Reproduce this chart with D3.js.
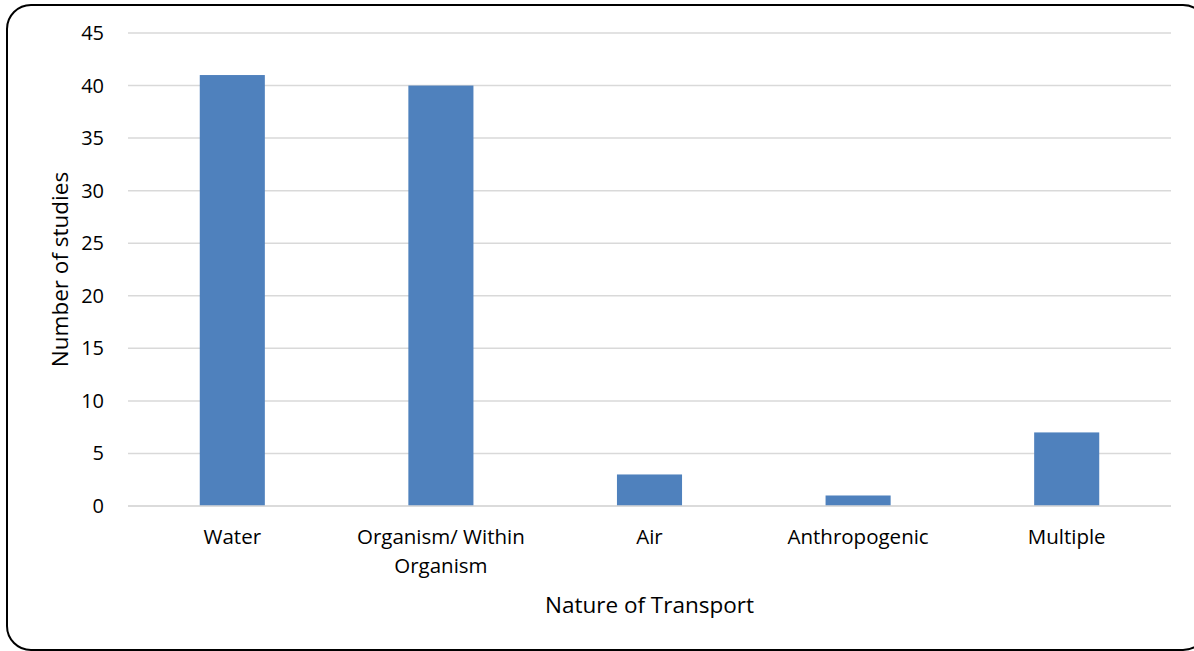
<!DOCTYPE html>
<html>
<head>
<title>Nature of Transport</title>
<script src="https://d3js.org/d3.v7.min.js"></script>
<style>
  body { margin: 0; background: #fff; }
  svg text { font-family: "Open Sans", "Noto Sans", sans-serif; fill: #000; }
</style>
</head>
<body>
<svg id="chart" width="1194" height="651"></svg>
<script>
// data
const categories = ["Water", "Organism/ Within Organism", "Air", "Anthropogenic", "Multiple"];
const studies = [41, 40, 3, 1, 7];
const yTicks = [0, 5, 10, 15, 20, 25, 30, 35, 40, 45];

const svg = d3.select("#chart");
const plotL = 128, plotR = 1171, plotT = 33, plotB = 506;

// outer frame with rounded corners
svg.append("rect")
  .attr("x", 7).attr("y", 5)
  .attr("width", 1200).attr("height", 645)
  .attr("rx", 24).attr("ry", 24)
  .attr("fill", "none").attr("stroke", "#000").attr("stroke-width", 2);

const x = d3.scaleBand().domain(categories).range([plotL, plotR]).paddingInner(0.688).paddingOuter(0.344);
const y = d3.scaleLinear().domain([0, 45]).range([plotB, plotT]);

// gridlines
svg.append("g").selectAll("line").data(yTicks).join("line")
  .attr("x1", plotL).attr("x2", plotR)
  .attr("y1", d => y(d)).attr("y2", d => y(d))
  .attr("stroke", "#d9d9d9").attr("stroke-width", 1.5);

// y tick labels
svg.append("g").selectAll("text").data(yTicks).join("text")
  .attr("x", 104).attr("y", d => y(d))
  .attr("dy", "0.35em")
  .attr("text-anchor", "end")
  .attr("font-size", 20)
  .text(d => d);

// bars
svg.append("g").selectAll("rect").data(studies).join("rect")
  .attr("x", (d, i) => x(categories[i]))
  .attr("width", x.bandwidth())
  .attr("y", d => y(d))
  .attr("height", d => y(0) - y(d))
  .attr("fill", "#4f81bd");

// x axis base line over the bars
svg.append("line")
  .attr("x1", plotL).attr("x2", plotR)
  .attr("y1", y(0)).attr("y2", y(0))
  .attr("stroke", "#d9d9d9").attr("stroke-width", 1.5);

// category labels (wrapped)
const labelLines = {
  "Organism/ Within Organism": ["Organism/ Within", "Organism"]
};
const xl = svg.append("g").selectAll("text").data(categories).join("text")
  .attr("x", d => x(d) + x.bandwidth() / 2)
  .attr("y", 544)
  .attr("text-anchor", "middle")
  .attr("font-size", 20.5);
xl.each(function (d) {
  const lines = labelLines[d] || [d];
  const t = d3.select(this);
  lines.forEach((ln, k) => {
    t.append("tspan")
      .attr("x", x(d) + x.bandwidth() / 2)
      .attr("dy", k === 0 ? 0 : 29)
      .text(ln);
  });
});

// axis titles
svg.append("text")
  .attr("x", (plotL + plotR) / 2).attr("y", 613)
  .attr("text-anchor", "middle")
  .attr("font-size", 22.5)
  .text("Nature of Transport");

svg.append("text")
  .attr("transform", "translate(68," + (plotB + plotT) / 2 + ") rotate(-90)")
  .attr("text-anchor", "middle")
  .attr("font-size", 22.5)
  .text("Number of studies");
</script>
</body>
</html>
